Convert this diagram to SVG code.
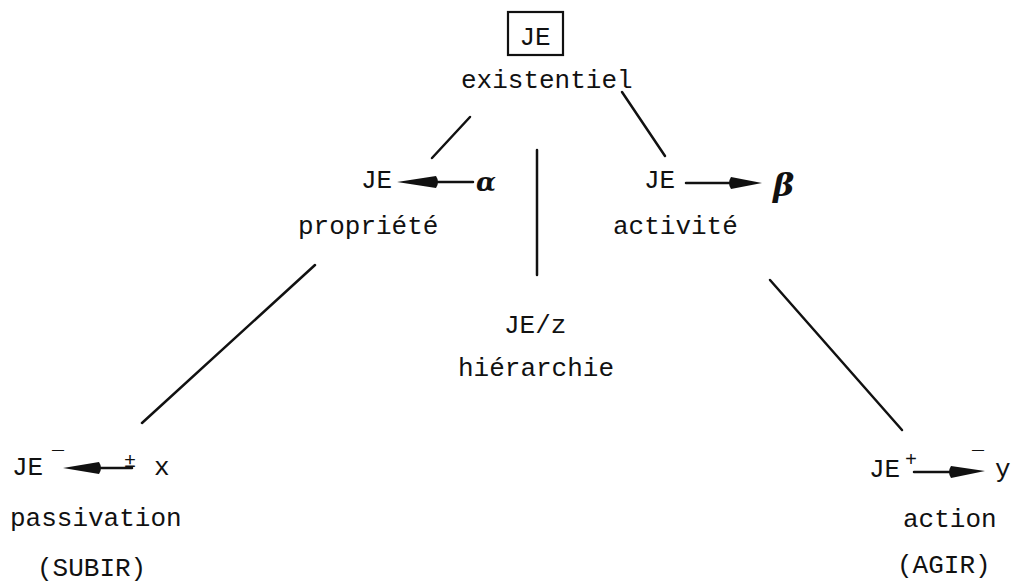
<svg xmlns="http://www.w3.org/2000/svg" width="1014" height="587" viewBox="0 0 1014 587">
<style>
.t{font-family:"Liberation Mono","Courier New",monospace;font-size:26px;fill:#111;}
.s{font-family:"Liberation Mono","Courier New",monospace;font-size:20px;fill:#111;}
.g{font-family:"DejaVu Serif","Liberation Serif",serif;font-style:italic;font-weight:bold;fill:#111;}
.ln{stroke:#111;stroke-width:2.5;fill:none;stroke-linecap:round;}
.hd{fill:#111;stroke:none;}
</style>
<rect width="1014" height="587" fill="#fff"/>
<g id="existentiel">
<rect x="508" y="12" width="55" height="43" fill="none" stroke="#111" stroke-width="2.2"/>
<text class="t" x="535" y="45" text-anchor="middle">JE</text>
<text class="t" x="461" y="88">existentiel</text>
</g>
<g id="propriete">
<text class="t" x="361" y="188">JE</text>
<path class="hd" d="M397,182 L436,176 Q440,182 436,188 Z"/>
<line class="ln" x1="437" y1="182" x2="473" y2="182"/>
<text class="g" x="476" y="191" font-size="26">α</text>
<text class="t" x="298" y="234">propriété</text>
</g>
<g id="activite">
<text class="t" x="644" y="188">JE</text>
<line class="ln" x1="686" y1="183" x2="730" y2="183"/>
<path class="hd" d="M762,183 L731,177 Q727,183 731,189 Z"/>
<text class="g" x="773" y="196" font-size="32">β</text>
<text class="t" x="613" y="234">activité</text>
</g>
<g id="hierarchie">
<text class="t" x="504" y="333">JE/z</text>
<text class="t" x="458" y="376">hiérarchie</text>
</g>
<g id="passivation">
<text class="t" x="12" y="475">JE</text>
<text class="s" x="52" y="466">¯</text>
<path class="hd" d="M63,468 L99,462 Q103,468 99,474 Z"/>
<line class="ln" x1="100" y1="468" x2="132" y2="468"/>
<text class="s" x="124" y="467">±</text>
<text class="t" x="154" y="475">x</text>
<text class="t" x="10" y="526">passivation</text>
<text class="t" x="37" y="576">(SUBIR)</text>
</g>
<g id="action">
<text class="t" x="869" y="477">JE</text>
<text class="s" x="905" y="466">+</text>
<line class="ln" x1="914" y1="472" x2="950" y2="472"/>
<path class="hd" d="M985,471 L951,466 Q947,472 951,478 Z"/>
<text class="s" x="972" y="466">¯</text>
<text class="t" x="995" y="477">y</text>
<text class="t" x="903" y="527">action</text>
<text class="t" x="897" y="573">(AGIR)</text>
</g>
<g id="connectors">
<line class="ln" x1="470" y1="117" x2="432" y2="158"/>
<line class="ln" x1="622" y1="92" x2="665" y2="156"/>
<line class="ln" x1="537" y1="150" x2="537" y2="275"/>
<line class="ln" x1="315" y1="265" x2="142" y2="423"/>
<line class="ln" x1="770" y1="280" x2="902" y2="430" stroke-width="3"/>
</g>
</svg>
